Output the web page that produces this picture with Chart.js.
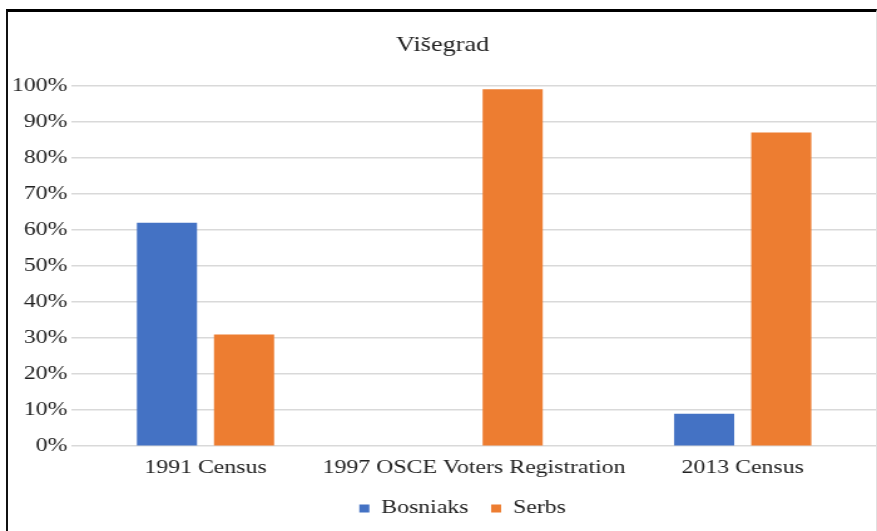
<!DOCTYPE html>
<html>
<head>
<meta charset="utf-8">
<script src="https://cdn.jsdelivr.net/npm/chart.js@4.4.0/dist/chart.umd.min.js"></script>
<style>
  html, body { margin: 0; padding: 0; background: #fff; }
  #wrap { position: relative; width: 877px; height: 531px; overflow: hidden; }
  #frame { position: absolute; left: 6px; top: 9px; width: 868px; height: 530px;
           border-top: 3px solid #000; border-left: 2px solid #111; border-right: 1px solid #e0e0e0;
           pointer-events: none; }
  canvas { position: absolute; left: 0; top: 0; }
</style>
</head>
<body>
<div id="wrap">
  <canvas id="c" width="700" height="531" style="width:877px;height:531px;"></canvas>
  <div id="frame"></div>
</div>
<script>
const categories = ["1991 Census", "1997 OSCE Voters Registration", "2013 Census"];
const bosniaks = [62, 0, 9];
const serbs = [31, 99, 87];
const yTicks = [0, 10, 20, 30, 40, 50, 60, 70, 80, 90, 100];

const serif = "'Liberation Serif', 'Times New Roman', serif";

// nudge the legend horizontally (layout only, no data)
const legendShift = {
  id: 'legendShift',
  afterLayout(chart) {
    const l = chart.legend;
    if (l) { l.left += 16; l.right += 16; }
  }
};

new Chart(document.getElementById('c'), {
  type: 'bar',
  data: {
    labels: categories,
    datasets: [
      { label: 'Bosniaks', data: bosniaks, backgroundColor: '#4472C4',
        categoryPercentage: 0.574, barPercentage: 0.78 },
      { label: 'Serbs', data: serbs, backgroundColor: '#ED7D31',
        categoryPercentage: 0.574, barPercentage: 0.78 }
    ]
  },
  plugins: [legendShift],
  options: {
    responsive: false,
    animation: false,
    devicePixelRatio: 1,
    layout: { padding: { top: 33, left: 6.5, right: 0, bottom: 3 } },
    plugins: {
      title: { display: true, text: 'Višegrad', color: '#222',
               font: { family: serif, size: 21, weight: 'normal' },
               padding: { top: 0, bottom: 27.5 } },
      legend: { position: 'bottom',
                labels: { color: '#222', font: { family: serif, size: 19 },
                          boxWidth: 8, boxHeight: 8, padding: 18 } },
      tooltip: { enabled: false }
    },
    scales: {
      x: {
        grid: { display: false },
        border: { display: false },
        ticks: { color: '#222', font: { family: serif, size: 19 }, padding: 2,
                 maxRotation: 0, autoSkip: false }
      },
      y: {
        min: 0, max: 100,
        afterBuildTicks: (axis) => { axis.ticks = yTicks.map(v => ({ value: v })); },
        grid: { color: '#d9d9d9', lineWidth: 1.5, drawTicks: false },
        border: { display: false },
        ticks: { color: '#222', font: { family: serif, size: 19 }, padding: 3,
                 callback: (v) => v + '%' }
      }
    }
  }
});
</script>
</body>
</html>
